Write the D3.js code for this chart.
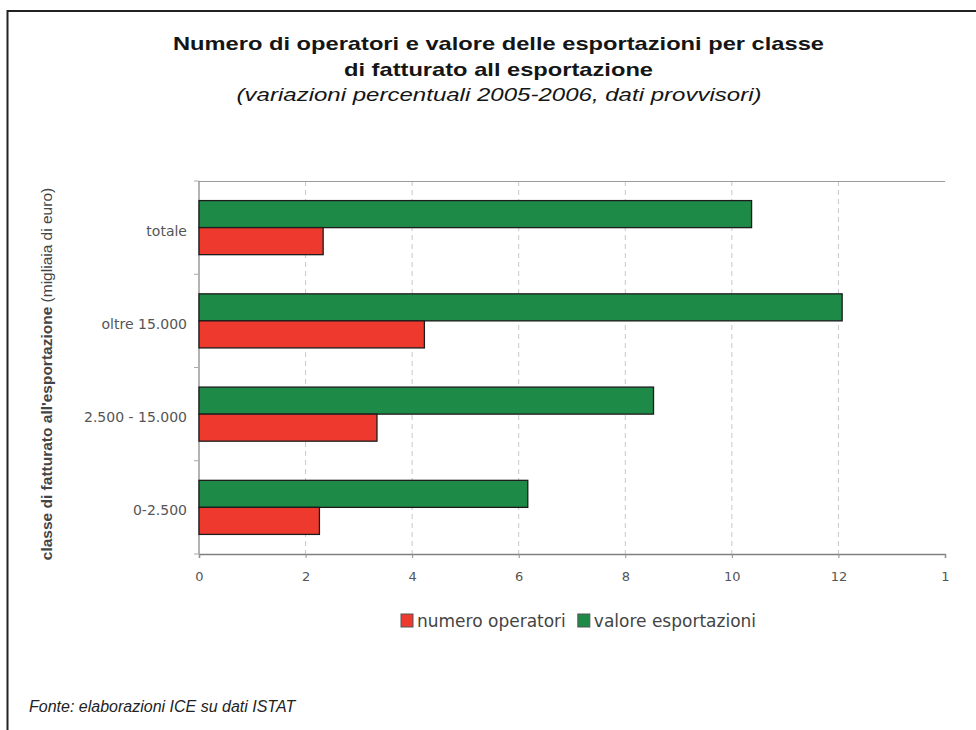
<!DOCTYPE html>
<html>
<head>
<meta charset="utf-8">
<script src="https://cdn.jsdelivr.net/npm/d3@7"></script>
<style>
html,body{margin:0;padding:0;background:#fff;}
svg{display:block;}
</style>
</head>
<body>
<script>
// ---- data ----
const categories = ["totale", "oltre 15.000", "2.500 - 15.000", "0-2.500"];
const seriesNames = ["valore esportazioni", "numero operatori"];
const valoreEsportazioni = [10.37, 12.07, 8.53, 6.17];
const numeroOperatori = [2.33, 4.23, 3.34, 2.26];
const tickValues = [0, 2, 4, 6, 8, 10, 12, 14];
const tickLabels = ["0", "2", "4", "6", "8", "10", "12", "1"];
const legendOrder = ["numero operatori", "valore esportazioni"];
const titleLines = ["Numero di operatori e valore delle esportazioni per classe", "di fatturato all esportazione"];
const subtitle = "(variazioni percentuali 2005-2006, dati provvisori)";
const yTitleBold = "classe di fatturato all'esportazione";
const yTitleNormal = " (migliaia di euro)";
const source = "Fonte: elaborazioni ICE su dati ISTAT";

const colors = {"valore esportazioni": "#1e8a48", "numero operatori": "#ee3a2e"};
const seriesValues = {"valore esportazioni": valoreEsportazioni, "numero operatori": numeroOperatori};

const W = 976, H = 730;
const svg = d3.select("body").append("svg").attr("width", W).attr("height", H);

// frame
svg.append("path").attr("d", "M7.5,730 L7.5,11 L976,11")
  .attr("fill", "none").attr("stroke", "#222").attr("stroke-width", 2);

// titles (horizontally stretched like the reference)
const tg = svg.append("g").attr("font-family", "'Liberation Sans', Arial, sans-serif").attr("fill", "#151515");
titleLines.forEach((t, i) => {
  tg.append("text").attr("transform", `translate(498.5,${49.5 + i * 26}) scale(1.28,1)`).attr("text-anchor", "middle")
    .attr("font-size", 18.5).attr("font-weight", "bold").text(t);
});
tg.append("text").attr("transform", "translate(499,101) scale(1.3,1)").attr("text-anchor", "middle")
  .attr("font-size", 18.5).attr("font-style", "italic").text(subtitle);

// scales
const x = d3.scaleLinear().domain([0, 14]).range([199, 945]);
const y = d3.scaleBand().domain(categories).range([181, 554]).paddingInner(0.42).paddingOuter(0.21);
const ySub = d3.scaleBand().domain(seriesNames).range([0, y.bandwidth()]);

const plotTop = 181, plotBottom = 554, plotLeft = 199, plotRight = 945;

// gridlines
svg.append("g").selectAll("line").data(tickValues.filter(v => v > 0 && v < 14)).join("line")
  .attr("x1", d => x(d)).attr("x2", d => x(d)).attr("y1", plotTop).attr("y2", plotBottom)
  .attr("stroke", "#c8c8c8").attr("stroke-width", 1).attr("stroke-dasharray", "5,4");

// top border line
svg.append("line").attr("x1", plotLeft).attr("x2", plotRight).attr("y1", plotTop + 0.5).attr("y2", plotTop + 0.5)
  .attr("stroke", "#9a9a9a").attr("stroke-width", 1.2);

// x axis
const xAxis = d3.axisBottom(x).tickValues(tickValues).tickFormat((d, i) => tickLabels[i]).tickSize(4).tickPadding(14);
const xg = svg.append("g").attr("transform", `translate(0,${plotBottom})`).call(xAxis);
xg.select(".domain").attr("stroke", "#808080").attr("stroke-width", 1.5);
xg.selectAll(".tick line").attr("stroke", "#909090");
xg.selectAll("text").attr("font-family", "'DejaVu Sans', sans-serif").attr("font-size", 13).attr("fill", "#555");

// y axis line and boundary ticks
svg.append("line").attr("x1", plotLeft).attr("x2", plotLeft).attr("y1", plotTop).attr("y2", plotBottom)
  .attr("stroke", "#8a8a8a").attr("stroke-width", 1.3);
const boundaries = d3.range(categories.length + 1).map(i => plotTop + i * (plotBottom - plotTop) / categories.length);
svg.append("g").selectAll("line").data(boundaries).join("line")
  .attr("x1", plotLeft - 5).attr("x2", plotLeft).attr("y1", d => d).attr("y2", d => d)
  .attr("stroke", "#aaa").attr("stroke-width", 1);

// category labels
svg.append("g").selectAll("text").data(categories).join("text")
  .attr("x", 187).attr("y", d => y(d) + y.bandwidth() / 2 + 3)
  .attr("dy", "0.35em").attr("text-anchor", "end")
  .attr("font-family", "'DejaVu Sans', sans-serif").attr("font-size", 14).attr("fill", "#555")
  .text(d => d);

// bars
const groups = svg.append("g").selectAll("g").data(categories).join("g")
  .attr("transform", d => `translate(0,${y(d)})`);
groups.selectAll("rect").data((d, i) => seriesNames.map(s => ({s, v: seriesValues[s][i]}))).join("rect")
  .attr("x", x(0)).attr("y", d => ySub(d.s)).attr("width", d => x(d.v) - x(0)).attr("height", ySub.bandwidth())
  .attr("fill", d => colors[d.s]).attr("stroke", "#1c1c1c").attr("stroke-width", 1.3);

// y title
const yt = svg.append("text").attr("transform", "translate(52,374) rotate(-90)").attr("text-anchor", "middle")
  .attr("font-family", "'Liberation Sans', Arial, sans-serif").attr("font-size", 15.5).attr("fill", "#444");
yt.append("tspan").attr("font-weight", "bold").text(yTitleBold);
yt.append("tspan").text(yTitleNormal);

// legend
const lg = svg.append("g").attr("font-family", "'DejaVu Sans', sans-serif").attr("font-size", 17).attr("fill", "#444");
let lx = 401;
legendOrder.forEach(name => {
  lg.append("rect").attr("x", lx).attr("y", 614).attr("width", 12).attr("height", 13)
    .attr("fill", colors[name]).attr("stroke", "#555").attr("stroke-width", 1);
  const t = lg.append("text").attr("x", lx + 16).attr("y", 626.5).text(name);
  lx += 16 + t.node().getComputedTextLength() + 12;
});

// source
svg.append("text").attr("x", 29).attr("y", 712).attr("font-family", "'Liberation Sans', Arial, sans-serif")
  .attr("font-size", 16).attr("font-style", "italic").attr("fill", "#222").text(source);
</script>
</body>
</html>
